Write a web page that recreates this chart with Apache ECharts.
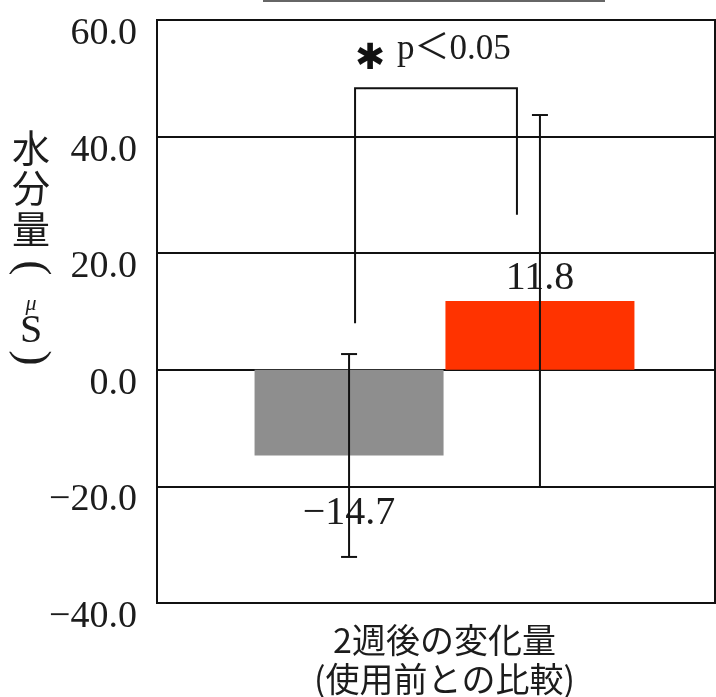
<!DOCTYPE html>
<html><head><meta charset="utf-8">
<script src="https://cdn.jsdelivr.net/npm/echarts@6/dist/echarts.min.js"></script>
<style>html,body{margin:0;padding:0;background:#fff}#c{width:716px;height:697px}</style>
</head><body><div id="c"></div>
<script>
const categories = ['2週後の変化量\n(使用前との比較)'];
const grayValues = [-14.7];
const redValues = [11.8];
const graySD = [17.4];
const redSD = [31.9];
const yTicks = { min: -40, max: 60, interval: 20 };
const bracket = { top: 48.3, leftBottom: 8.0, rightBottom: 26.6 };
const sigText = 'p＜0.05';
const yName = ['水', '分', '量', '(', 'μ', 'S', ')'];

const BAR_W = 189, GAP = '1%';
const OFF = (BAR_W + BAR_W * 0.01) / 2;
const TXT = '#1c1c1c';
const SERIF = '"Liberation Serif","Noto Sans CJK JP",serif';
const CJK = '"Noto Sans CJK JP",sans-serif';

function errItem(sign) {
  return function (params, api) {
    const x0 = api.coord([api.value(0), api.value(1)]);
    const lo = api.coord([api.value(0), api.value(1) - api.value(2)]);
    const hi = api.coord([api.value(0), api.value(1) + api.value(2)]);
    const x = x0[0] + sign * OFF;
    const s = { stroke: '#111', lineWidth: 2 };
    return { type: 'group', children: [
      { type: 'line', shape: { x1: x, y1: lo[1], x2: x, y2: hi[1] }, style: s },
      { type: 'line', shape: { x1: x - 8, y1: lo[1], x2: x + 8, y2: lo[1] }, style: s },
      { type: 'line', shape: { x1: x - 8, y1: hi[1], x2: x + 8, y2: hi[1] }, style: s }
    ]};
  };
}

function nameText(t, y, size, font, extra) {
  return { type: 'text', x: 31, y: y,
    style: Object.assign({ text: t, x: 0, y: 0, fontSize: size, fontFamily: font, fill: TXT, align: 'center', verticalAlign: 'middle' }, extra || {}) };
}

const chart = echarts.init(document.getElementById('c'), null, { renderer: 'canvas' });
chart.setOption({
  animation: false,
  backgroundColor: '#fff',
  grid: [
    { left: 157, top: 20, bottom: 94, right: -16, containLabel: false, outerBoundsMode: 'none' },
    { left: 157, top: 20, bottom: 94, right: 1, containLabel: false, outerBoundsMode: 'none', show: true, borderColor: '#111', borderWidth: 2, backgroundColor: 'transparent', z: 5 }
  ],
  xAxis: [
    { type: 'category', data: categories, gridIndex: 0,
      axisLine: { onZero: false, lineStyle: { color: '#111', width: 2 } },
      axisTick: { show: false },
      axisLabel: { color: TXT, fontSize: 34, lineHeight: 39, margin: 18, fontFamily: CJK } },
    { type: 'value', gridIndex: 1, show: false, min: 0, max: 1 }
  ],
  yAxis: [
    { type: 'value', gridIndex: 0, min: yTicks.min, max: yTicks.max, interval: yTicks.interval,
      axisLine: { show: true, lineStyle: { color: '#111', width: 2 } },
      axisTick: { show: false },
      splitLine: { lineStyle: { color: '#111', width: 2 } },
      axisLabel: { color: TXT, fontSize: 38, fontFamily: SERIF, margin: 20, verticalAlign: 'top', lineHeight: 28,
        formatter: v => (v < 0 ? '−' : '') + Math.abs(v).toFixed(1) } },
    { type: 'value', gridIndex: 1, show: false, min: 0, max: 1 }
  ],
  series: [
    { type: 'bar', name: 'gray', data: grayValues, barWidth: BAR_W, barGap: GAP,
      itemStyle: { color: '#8e8e8e' },
      label: { show: true, position: 'bottom', distance: 38, color: TXT, fontSize: 40, fontFamily: SERIF,
        formatter: p => (p.value < 0 ? '−' : '') + Math.abs(p.value).toFixed(1) } },
    { type: 'bar', name: 'red', data: redValues, barWidth: BAR_W, barGap: GAP,
      itemStyle: { color: '#ff3300' },
      label: { show: true, position: 'top', distance: 3, color: TXT, fontSize: 40, fontFamily: SERIF,
        formatter: p => p.value.toFixed(1) } },
    { type: 'custom', name: 'errGray', renderItem: errItem(-1), clip: false, z: 10,
      data: grayValues.map((v, i) => [i, v, graySD[i]]) },
    { type: 'custom', name: 'errRed', renderItem: errItem(1), clip: false, z: 10,
      data: redValues.map((v, i) => [i, v, redSD[i]]) },
    { type: 'custom', name: 'bracket', clip: false, z: 10,
      data: [[0, bracket.top, bracket.leftBottom, bracket.rightBottom]],
      renderItem: function (params, api) {
        const c = api.coord([api.value(0), api.value(1)]);
        const lb = api.coord([api.value(0), api.value(2)]);
        const rb = api.coord([api.value(0), api.value(3)]);
        const xl = c[0] - OFF + 6, xr = c[0] + OFF - 23;
        const s = { stroke: '#111', lineWidth: 2, fill: null };
        return { type: 'group', children: [
          { type: 'polyline', shape: { points: [[xl, lb[1]], [xl, c[1]], [xr, c[1]], [xr, rb[1]]] }, style: s },
          { type: 'text', style: { text: '✱', x: xl + 15, y: c[1] - 29, fontSize: 36, fontWeight: 'bold', fontFamily: '"DejaVu Sans",sans-serif', fill: '#111', align: 'center', verticalAlign: 'middle' } },
          { type: 'text', style: { text: sigText, x: xl + 42, y: c[1] - 38, fontSize: 35, fontFamily: SERIF, fill: TXT, align: 'left', verticalAlign: 'middle' } }
        ]};
      } }
  ],
  graphic: [
    { type: 'line', shape: { x1: 263, y1: 1, x2: 605, y2: 1 }, style: { stroke: '#666', lineWidth: 2 } },
    nameText(yName[0], 148, 38, CJK),
    nameText(yName[1], 188, 38, CJK),
    nameText(yName[2], 229, 38, CJK),
    Object.assign(nameText(yName[3], 268, 46, SERIF), { rotation: -Math.PI / 2 }),
    nameText(yName[4], 304, 22, SERIF, { fontStyle: 'italic' }),
    nameText(yName[5], 331, 40, SERIF),
    Object.assign(nameText(yName[6], 358, 46, SERIF), { rotation: -Math.PI / 2 })
  ]
});
</script></body></html>
